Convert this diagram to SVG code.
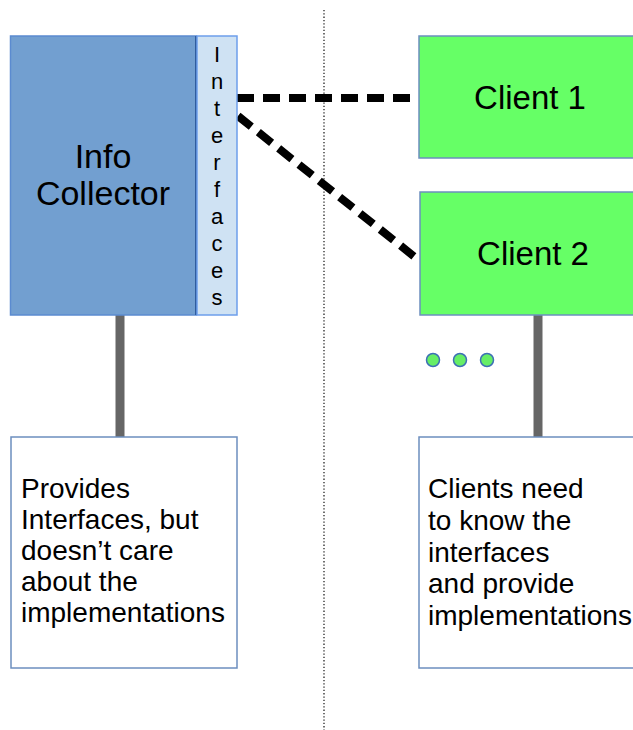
<svg xmlns="http://www.w3.org/2000/svg" width="633" height="730" viewBox="0 0 633 730">
<style>
text{font-family:"Liberation Sans",Arial,sans-serif;fill:#000}
.note{font-size:28px}
.client{fill:#66ff66;stroke:#6c8ebf;stroke-width:1.5}
.box{fill:#fff;stroke:#6c8ebf;stroke-width:1.5}
.dash{stroke:#000;stroke-width:8;fill:none;stroke-dasharray:17 9}
.stem{stroke:#666;stroke-width:9}
.dot{fill:#66ee66;stroke:#3d6fb5;stroke-width:1.5}
</style>
<line x1="324" y1="10" x2="324" y2="730" stroke="#222" stroke-width="1.3" stroke-dasharray="1.3 2"/>
<g id="connectors">
<line class="stem" x1="120" y1="315" x2="120" y2="437"/>
<line class="stem" x1="538" y1="315" x2="538" y2="437"/>
<line class="dash" x1="237" y1="98" x2="411" y2="98"/>
<line class="dash" x1="238" y1="116" x2="416" y2="258"/>
</g>
<g id="info-collector">
<rect x="10.5" y="36" width="186" height="279" fill="#729fd0" stroke="#5b8bd0" stroke-width="1.5"/>
<line x1="196" y1="36" x2="196" y2="315" stroke="#2f5c9e" stroke-width="2"/>
<text x="103" y="168" font-size="34" text-anchor="middle">Info</text>
<text x="103" y="205" font-size="34" text-anchor="middle">Collector</text>
</g>
<g id="interfaces">
<rect x="197" y="36" width="40" height="279" fill="#cfe2f3" stroke="#6d9eeb" stroke-width="1.5"/>
<g font-size="22" text-anchor="middle">
<text x="217" y="62">I</text>
<text x="217" y="89">n</text>
<text x="217" y="116">t</text>
<text x="217" y="143">e</text>
<text x="217" y="170">r</text>
<text x="217" y="197">f</text>
<text x="217" y="224">a</text>
<text x="217" y="251">c</text>
<text x="217" y="278">e</text>
<text x="217" y="305">s</text>
</g>
</g>
<g id="client1">
<rect class="client" x="419" y="36" width="220" height="122"/>
<text x="530" y="109" font-size="33" text-anchor="middle">Client 1</text>
</g>
<g id="client2">
<rect class="client" x="420" y="192" width="220" height="123"/>
<text x="533" y="265" font-size="33" text-anchor="middle">Client 2</text>
</g>
<g id="more-clients">
<circle class="dot" cx="433" cy="360" r="6.5"/>
<circle class="dot" cx="460" cy="360" r="6.5"/>
<circle class="dot" cx="487" cy="360" r="6.5"/>
</g>
<g id="note-collector">
<rect class="box" x="11" y="437" width="226" height="231"/>
<text class="note" x="21" y="498">Provides</text>
<text class="note" x="21" y="529">Interfaces, but</text>
<text class="note" x="21" y="560">doesn’t care</text>
<text class="note" x="21" y="591">about the</text>
<text class="note" x="21" y="622">implementations</text>
</g>
<g id="note-clients">
<rect class="box" x="419" y="437" width="220" height="231"/>
<text class="note" x="428" y="498">Clients need</text>
<text class="note" x="428" y="530">to know the</text>
<text class="note" x="428" y="562">interfaces</text>
<text class="note" x="428" y="593">and provide</text>
<text class="note" x="428" y="625">implementations</text>
</g>
</svg>
